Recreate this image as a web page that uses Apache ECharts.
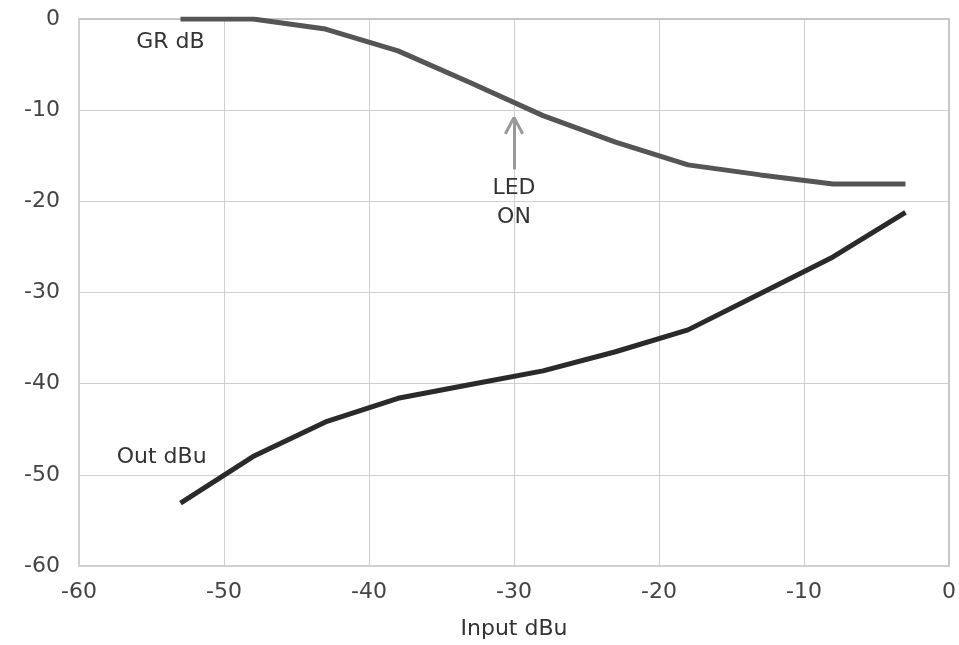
<!DOCTYPE html>
<html><head><meta charset="utf-8">
<script src="https://cdn.jsdelivr.net/npm/echarts@6/dist/echarts.min.js"></script>
<style>html,body{margin:0;padding:0;background:#fff}#c{width:959px;height:645px}</style>
</head><body><div id="c"></div>
<script>
const inputDbu = [-53, -48, -43, -38, -33, -28, -23, -18, -13, -8, -3];
const grDb     = [0, 0, -1.1, -3.5, -7.0, -10.6, -13.5, -16.0, -17.1, -18.1, -18.1];
const outDbu   = [-53.1, -48.0, -44.2, -41.6, -40.1, -38.6, -36.5, -34.1, -30.1, -26.1, -21.2];
const xTicks = [-60, -50, -40, -30, -20, -10, 0];
const yTicks = [0, -10, -20, -30, -40, -50, -60];
const FONT = 'DejaVu Sans';
const FS = 22;

const chart = echarts.init(document.getElementById('c'));
chart.setOption({
  animation: false,
  grid: {left: 79, right: 10, top: 19, bottom: 77, show: true, borderColor: '#c4c4c4', borderWidth: 1.5},
  xAxis: {
    type: 'value', min: -60, max: 0, interval: 10,
    name: 'Input dBu', nameLocation: 'middle', nameGap: 52,
    nameTextStyle: {fontFamily: FONT, fontSize: FS, color: '#333'},
    axisLine: {show: true, lineStyle: {color: '#c4c4c4', width: 1.5}},
    axisTick: {show: false},
    axisLabel: {fontFamily: FONT, fontSize: FS, color: '#444', margin: 15},
    splitLine: {lineStyle: {color: '#cfcfcf', width: 1}}
  },
  yAxis: {
    type: 'value', min: -60, max: 0, interval: 10,
    axisLine: {show: true, lineStyle: {color: '#c4c4c4', width: 1.5}},
    axisTick: {show: false},
    axisLabel: {fontFamily: FONT, fontSize: FS, color: '#444', margin: 19},
    splitLine: {lineStyle: {color: '#cfcfcf', width: 1}}
  },
  series: [
    {
      name: 'GR dB', type: 'line', showSymbol: false,
      data: inputDbu.map((x, i) => [x, grDb[i]]),
      lineStyle: {color: '#555', width: 5},
      markPoint: {
        symbol: 'circle', symbolSize: 0, silent: true,
        data: [
          {coord: [-53.7, -2.6], label: {show: true, formatter: 'GR dB', fontFamily: FONT, fontSize: FS, color: '#333', position: 'inside'}},
          {coord: [-30, -20.2], label: {show: true, formatter: 'LED\nON', fontFamily: FONT, fontSize: FS, lineHeight: 29, color: '#333', position: 'inside'}}
        ]
      },
      markLine: {
        silent: true, symbol: ['none', 'none'], label: {show: false},
        lineStyle: {color: '#999', width: 3, type: 'solid'},
        data: [
          [{coord: [-30, -16.5]}, {coord: [-30, -10.8]}],
          [{coord: [-30.6, -12.6]}, {coord: [-30, -10.8]}],
          [{coord: [-29.4, -12.6]}, {coord: [-30, -10.8]}]
        ]
      }
    },
    {
      name: 'Out dBu', type: 'line', showSymbol: false,
      data: inputDbu.map((x, i) => [x, outDbu[i]]),
      lineStyle: {color: '#2a2a2a', width: 5},
      markPoint: {
        symbol: 'circle', symbolSize: 0, silent: true,
        data: [
          {coord: [-54.3, -48.1], label: {show: true, formatter: 'Out dBu', fontFamily: FONT, fontSize: FS, color: '#333', position: 'inside'}}
        ]
      }
    }
  ]
});
</script></body></html>
